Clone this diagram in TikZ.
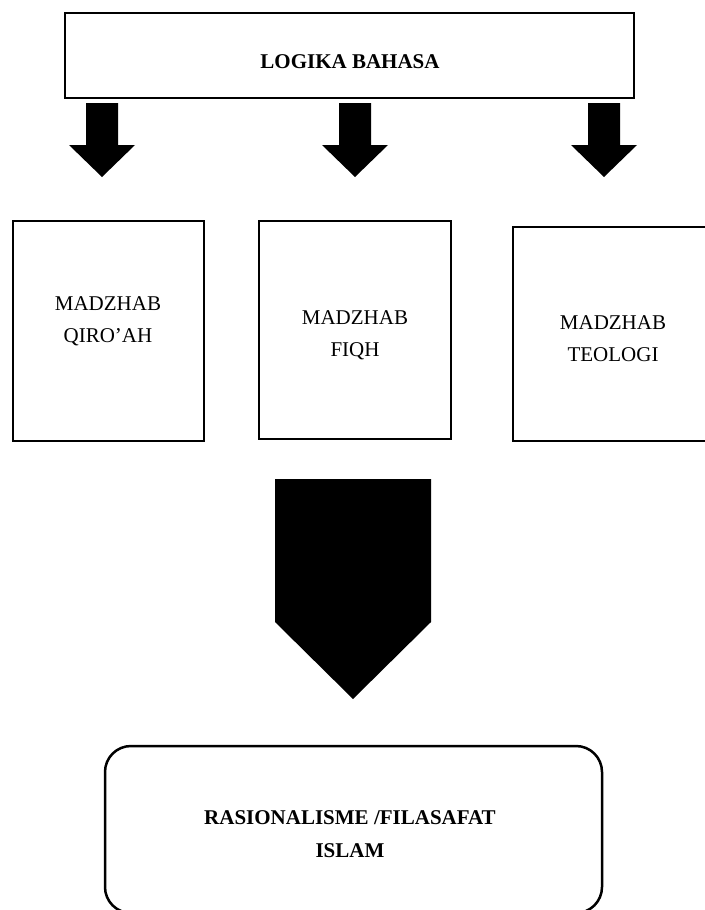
\documentclass[tikz,border=0pt]{standalone}
\usepackage{fontspec}
\setmainfont{Liberation Serif}
\begin{document}
\begin{tikzpicture}[x=1pt,y=-1pt,
  boxstyle/.style={draw, line width=2.5pt, inner sep=0pt},
  lbl/.style={inner sep=0pt, anchor=north, align=center, font=\fontsize{21}{32}\selectfont},
  blbl/.style={inner sep=0pt, anchor=north, align=center, font=\fontsize{21}{33}\selectfont\bfseries},
  blk/.style={fill=black, draw=none},
  sarrow/.pic={\fill (-16,0) -- (16,0) -- (16,42) -- (33,42) -- (0,74) -- (-33,42) -- (-16,42) -- cycle;}]
\useasboundingbox (0,0) rectangle (704,910);

% boxes
\node[boxstyle, minimum width=569pt, minimum height=85pt] (top) at (349.5,55.5) {};
\node[boxstyle, minimum width=191pt, minimum height=220pt] (qiro) at (108.5,331) {};
\node[boxstyle, minimum width=192pt, minimum height=218pt] (fiqh) at (355,330) {};
\node[boxstyle, minimum width=197pt, minimum height=214pt] (teol) at (611.5,334) {};
\node[boxstyle, rounded corners=26pt, minimum width=497pt, minimum height=167pt] (rasio) at (353.5,829.5) {};

% texts
\node[blbl] (ttop) at (350,54) {LOGIKA BAHASA};
\node[lbl] (tqiro) at (108,296) {MADZHAB\\QIRO’AH};
\node[lbl] (tfiqh) at (355,310) {MADZHAB\\FIQH};
\node[lbl] (tteol) at (613,315) {MADZHAB\\TEOLOGI};
\node[blbl] (trasio) at (350,810) {RASIONALISME /FILASAFAT\\ISLAM};

% small block arrows
\pic at (102,103) {sarrow};
\pic at (355,103) {sarrow};
\pic at (604,103) {sarrow};

% big block arrow
\fill[blk] (275,479) -- (431,479) -- (431,622) -- (353,699) -- (275,622) -- cycle;
\end{tikzpicture}
\end{document}
